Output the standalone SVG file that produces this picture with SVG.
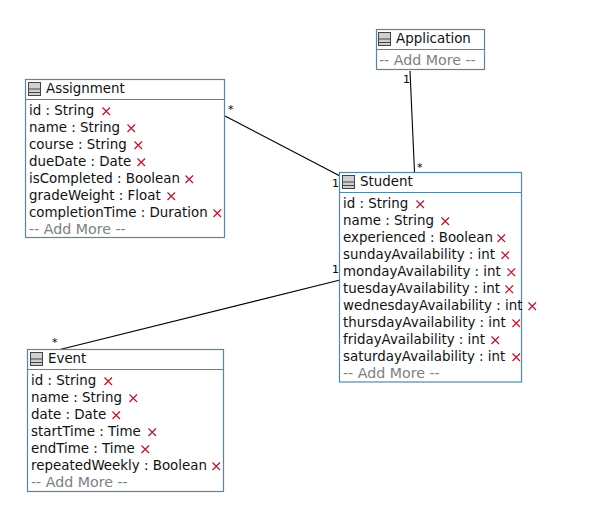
<svg xmlns="http://www.w3.org/2000/svg" width="603" height="523" viewBox="0 0 603 523">
<style>
text{font-family:"DejaVu Sans",sans-serif;font-size:13.4px;fill:#111}
.box{fill:#fff;stroke:#5488a6;stroke-width:1.2}
.sep{stroke:#5488a6;stroke-width:1.2}
.more{fill:#808080;font-size:14.200px}
.mult{font-size:11px;fill:#000}
.conn{stroke:#000;stroke-width:1.1;fill:none}
</style>
<defs>
<g id="x"><path d="M0.500 0.500L8 8M8 0.500L0.500 8" stroke="#c0112b" stroke-width="1.2" fill="none"/></g>
<g id="icon"><rect x="0.500" y="0.500" width="12" height="13" fill="#d0d0d0" stroke="#444"/><path d="M0.500 7H12.500M0.500 10.500H12.500" stroke="#444"/></g>
</defs>
<rect width="603" height="523" fill="#fff"/>
<g id="connectors">
<line class="conn" x1="225" y1="116" x2="340" y2="176"/>
<line class="conn" x1="410" y1="71" x2="414.500" y2="172"/>
<line class="conn" x1="340" y1="280" x2="58" y2="350"/>
<text class="mult" x="228" y="113">*</text>
<text class="mult" x="332" y="187">1</text>
<text class="mult" x="403" y="83">1</text>
<text class="mult" x="417" y="171">*</text>
<text class="mult" x="332" y="273">1</text>
<text class="mult" x="52" y="346">*</text>
</g>
<g id="application">
<rect class="box" x="376.500" y="29.500" width="108" height="40"/>
<line class="sep" x1="376.500" y1="49.500" x2="484.500" y2="49.500"/>
<use href="#icon" x="378" y="32"/>
<text x="396" y="43">Application</text>
<text class="more" x="379" y="65">-- Add More --</text>
</g>
<g id="assignment">
<rect class="box" x="25.500" y="79.500" width="199" height="158"/>
<line class="sep" x1="25.500" y1="99.500" x2="224.500" y2="99.500"/>
<use href="#icon" x="28" y="82"/>
<text x="46" y="93">Assignment</text>
<text x="29" y="115">id : String</text><use href="#x" x="102" y="107"/>
<text x="29" y="132">name : String</text><use href="#x" x="127" y="124"/>
<text x="29" y="149">course : String</text><use href="#x" x="134" y="141"/>
<text x="29" y="166">dueDate : Date</text><use href="#x" x="137" y="158"/>
<text x="29" y="183">isCompleted : Boolean</text><use href="#x" x="185" y="175"/>
<text x="29" y="200">gradeWeight : Float</text><use href="#x" x="167" y="192"/>
<text x="29" y="217">completionTime : Duration</text><use href="#x" x="213" y="209"/>
<text class="more" x="29" y="234">-- Add More --</text>
</g>
<g id="student">
<rect class="box" x="339.500" y="172.500" width="182" height="209.500"/>
<line class="sep" x1="339.500" y1="192.500" x2="521.500" y2="192.500"/>
<use href="#icon" x="342" y="175"/>
<text x="360" y="186">Student</text>
<text x="343" y="208">id : String</text><use href="#x" x="416" y="200"/>
<text x="343" y="225">name : String</text><use href="#x" x="441" y="217"/>
<text x="343" y="242">experienced : Boolean</text><use href="#x" x="497" y="234"/>
<text x="343" y="259">sundayAvailability : int</text><use href="#x" x="501" y="251"/>
<text x="343" y="276">mondayAvailability : int</text><use href="#x" x="507" y="268"/>
<text x="343" y="293">tuesdayAvailability : int</text><use href="#x" x="505" y="285"/>
<text x="343" y="310">wednesdayAvailability : int</text><use href="#x" x="528" y="302"/>
<text x="343" y="327">thursdayAvailability : int</text><use href="#x" x="512" y="319"/>
<text x="343" y="344">fridayAvailability : int</text><use href="#x" x="491" y="336"/>
<text x="343" y="361">saturdayAvailability : int</text><use href="#x" x="512" y="353"/>
<text class="more" x="343" y="378">-- Add More --</text>
</g>
<g id="event">
<rect class="box" x="27.500" y="349.500" width="196" height="142"/>
<line class="sep" x1="27.500" y1="369.500" x2="223.500" y2="369.500"/>
<use href="#icon" x="30" y="352"/>
<text x="48" y="363">Event</text>
<text x="31" y="385">id : String</text><use href="#x" x="104" y="377"/>
<text x="31" y="402">name : String</text><use href="#x" x="129" y="394"/>
<text x="31" y="419">date : Date</text><use href="#x" x="112" y="411"/>
<text x="31" y="436">startTime : Time</text><use href="#x" x="148" y="428"/>
<text x="31" y="453">endTime : Time</text><use href="#x" x="141" y="445"/>
<text x="31" y="470">repeatedWeekly : Boolean</text><use href="#x" x="212" y="462"/>
<text class="more" x="31" y="487">-- Add More --</text>
</g>
</svg>
